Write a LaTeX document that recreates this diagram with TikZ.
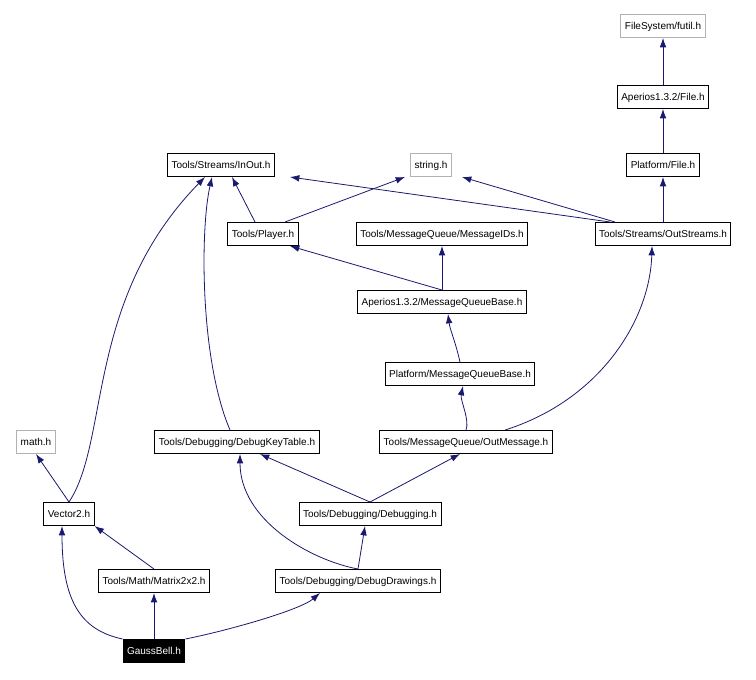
\documentclass[tikz,border=0pt]{standalone}
\usepackage{fontspec}
\setmainfont{Liberation Sans}
\usetikzlibrary{arrows.meta}
\begin{document}
\begin{tikzpicture}[x=0.75pt,y=-0.75pt,
  n/.style={draw=black,line width=0.75pt,fill=white,font=\fontsize{7.5}{9}\selectfont,inner xsep=3pt,minimum height=17.25pt,text height=6pt,text depth=1.5pt},
  g/.style={n,draw=gray!60},
  e/.style={draw={rgb,255:red,25;green,25;blue,112},line width=0.6pt,-{Latex[length=7pt,width=5pt]}}]
\useasboundingbox (0,0) rectangle (756,679);
\node[g] (futil) at (663,26) {FileSystem/futil.h};
\node[n] (afile) at (663,97) {Aperios1.3.2/File.h};
\node[n] (pfile) at (663,165) {Platform/File.h};
\node[n] (inout) at (221,165) {Tools/Streams/InOut.h};
\node[g] (str) at (431,165) {string.h};
\node[n] (player) at (263,234) {Tools/Player.h};
\node[n] (ids) at (442,234) {Tools/MessageQueue/MessageIDs.h};
\node[n] (outs) at (663,234) {Tools/Streams/OutStreams.h};
\node[n] (amqb) at (442,302) {Aperios1.3.2/MessageQueueBase.h};
\node[n] (pmqb) at (460,374) {Platform/MessageQueueBase.h};
\node[g] (math) at (36,442) {math.h};
\node[n] (dkt) at (237,442) {Tools/Debugging/DebugKeyTable.h};
\node[n] (om) at (466,442) {Tools/MessageQueue/OutMessage.h};
\node[n] (v2) at (69,514) {Vector2.h};
\node[n] (dbg) at (370,514) {Tools/Debugging/Debugging.h};
\node[n] (m2) at (154,581) {Tools/Math/Matrix2x2.h};
\node[n] (dd) at (358,581) {Tools/Debugging/DebugDrawings.h};
\node[n,fill=black,text=white] (gb) at (154,651) {GaussBell.h};
\draw[e] (gb.north west) .. controls (80,630) and (62,600) .. (v2.south -| 62,0);
\draw[e] (gb) -- (m2);
\draw[e] (gb.north east) .. controls (230,630) and (300,610) .. (dd.south -| 320,0);
\draw[e] (m2.north) -- (v2.south east);
\draw[e] (v2.north) -- (math.south);
\draw[e] (v2.north) .. controls (110,440) and (85,300) .. (inout.south -| 205,0);
\draw[e] (dd.north) .. controls (310,560) and (240,520) .. (dkt.south -| 240,0);
\draw[e] (dd.north) -- (dbg.south -| 365,0);
\draw[e] (dbg.north) -- (dkt.south -| 260,0);
\draw[e] (dbg.north) -- (om.south -| 460,0);
\draw[e] (dkt.north -| 230,0) .. controls (200,360) and (200,230) .. (inout.south -| 212,0);
\draw[e] (om.north) .. controls (470,420) and (460,400) .. (pmqb.south -| 463,0);
\draw[e] (om.north -| 505,0) .. controls (600,400) and (650,320) .. (outs.south -| 652,0);
\draw[e] (pmqb.north) .. controls (455,340) and (450,330) .. (amqb.south -| 448,0);
\draw[e] (amqb.north) -- (ids.south);
\draw[e] (amqb.north) -- (player.south -| 290,0);
\draw[e] (player.north -| 255,0) -- (inout.south -| 232,0);
\draw[e] (player.north -| 285,0) -- (str.south -| 405,0);
\draw[e] (outs.north -| 610,0) -- (inout.south -| 290,0);
\draw[e] (outs.north -| 615,0) -- (str.south -| 462,0);
\draw[e] (outs) -- (pfile);
\draw[e] (pfile) -- (afile);
\draw[e] (afile) -- (futil);
\end{tikzpicture}
\end{document}
